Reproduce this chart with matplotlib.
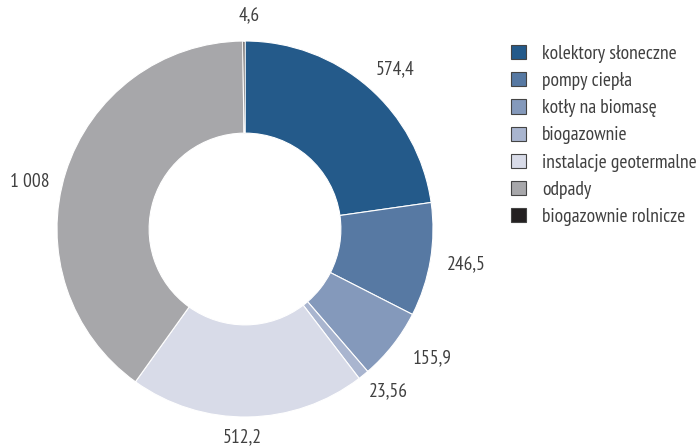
import numpy as np
import matplotlib
matplotlib.use("Agg")
import matplotlib.pyplot as plt
from matplotlib.patches import Patch

plt.rcParams['font.family'] = ['PT Sans Narrow', 'DejaVu Sans']

categories = ["kolektory słoneczne", "pompy ciepła", "kotły na biomasę", "biogazownie",
              "instalacje geotermalne", "odpady", "biogazownie rolnicze"]
values = [574.4, 246.5, 155.9, 23.56, 512.2, 1008, 4.6]
colors = ["#245a8a", "#5779a3", "#8499bb", "#a9b5cf", "#d8dbe8", "#a7a7aa", "#231f20"]
# label placement: radial distance and angular shift (degrees) from wedge middle
label_dist = [1.165, 1.19, 1.21, 1.15, 1.11, 1.17, 1.14]
label_shift = [-2.3, 0.5, 3.5, 2.5, -1.5, 5.2, -1.5]


def fmt(v):
    s = f"{v:g}"
    ip, _, dp = s.partition(".")
    if len(ip) > 3:
        ip = ip[:-3] + " " + ip[-3:]
    return ip + ("," + dp if dp else "")


fig = plt.figure(figsize=(7, 4.48), dpi=100)
ax = fig.add_axes([57 / 700, 31 / 448, 376 / 700, 376 / 448])
wedges, _ = ax.pie(values, colors=colors, startangle=90, counterclock=False,
                   wedgeprops=dict(width=0.49, edgecolor="white", linewidth=0.8))
for w, v, d, s in zip(wedges, values, label_dist, label_shift):
    ang = np.deg2rad((w.theta1 + w.theta2) / 2 + s)
    ax.text(d * np.cos(ang), d * np.sin(ang), fmt(v), ha="center", va="center",
            fontsize=14, color="#404040")
ax.set_aspect("equal")
ax.set_xlim(-1, 1)
ax.set_ylim(-1, 1)

handles = [Patch(facecolor=c, edgecolor="#444444", linewidth=0.8) for c in colors]
fig.legend(handles, categories, loc="upper left", bbox_to_anchor=(511 / 700, 1 - 45 / 448),
           frameon=False, fontsize=14, handlelength=0.75, handleheight=0.75,
           labelspacing=0.47, handletextpad=0.85, borderaxespad=0, borderpad=0,
           labelcolor="#404040")

fig.savefig("out.png", dpi=100)
